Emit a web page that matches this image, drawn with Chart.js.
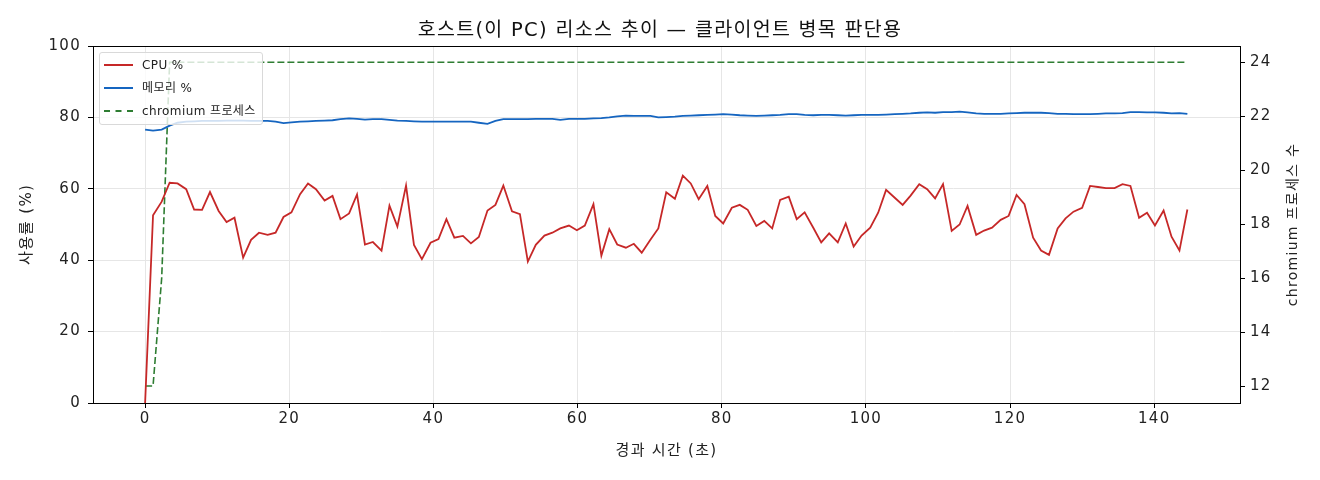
<!DOCTYPE html>
<html lang="ko">
<head>
<meta charset="utf-8">
<title>호스트 리소스 추이</title>
<script src="https://cdn.jsdelivr.net/npm/chart.js@4.4.1/dist/chart.umd.min.js"></script>
<style>
  html, body { margin: 0; padding: 0; background: #fff; }
  #wrap { position: relative; width: 1320px; height: 480px; }
  #legend {
    position: absolute; left: 99px; top: 52px; width: 162px; height: 71px;
    border: 1px solid #d9d9d9; border-radius: 3px; background: rgba(255,255,255,0.8);
    font-family: 'DejaVu Sans', 'Noto Sans CJK KR', sans-serif; font-size: 12px;
    letter-spacing: 0.4px; color: #222;
  }
  .item { position: absolute; left: 0; height: 16px; line-height: 16px; white-space: nowrap; }
  .sample { position: absolute; left: 4px; top: 7px; width: 29px; height: 0; border-top-width: 2px; }
  .label { position: absolute; left: 42px; top: 0; }
</style>
</head>
<body>
<div id="wrap">
  <canvas id="myChart" width="1320" height="480"></canvas>
  <div id="legend"></div>
</div>
<script>
'use strict';
// elapsed seconds
let times = [
  0, 1.1, 2.3, 3.4, 4.5, 5.7, 6.8, 7.9, 9.0, 10.2, 11.3, 12.4, 13.6, 14.7, 15.8, 17.0,
  18.1, 19.2, 20.3, 21.5, 22.6, 23.7, 24.9, 26.0, 27.1, 28.3, 29.4, 30.5, 31.6, 32.8, 33.9, 35.0,
  36.2, 37.3, 38.4, 39.6, 40.7, 41.8, 42.9, 44.1, 45.2, 46.3, 47.5, 48.6, 49.7, 50.9, 52.0, 53.1,
  54.2, 55.4, 56.5, 57.6, 58.8, 59.9, 61.0, 62.2, 63.3, 64.4, 65.5, 66.7, 67.8, 68.9, 70.1, 71.2,
  72.3, 73.5, 74.6, 75.7, 76.8, 78.0, 79.1, 80.2, 81.4, 82.5, 83.6, 84.8, 85.9, 87.0, 88.1, 89.3,
  90.4, 91.5, 92.7, 93.8, 94.9, 96.1, 97.2, 98.3, 99.4, 100.6, 101.7, 102.8, 104.0, 105.1, 106.2, 107.4,
  108.5, 109.6, 110.7, 111.9, 113.0, 114.1, 115.3, 116.4, 117.5, 118.7, 119.8, 120.9, 122.0, 123.2, 124.3, 125.4,
  126.6, 127.7, 128.8, 130.0, 131.1, 132.2, 133.3, 134.5, 135.6, 136.7, 137.9, 139.0, 140.1, 141.3, 142.4, 143.5,
  144.6
];
let cpuPct = [
  0, 52.6, 56.4, 61.7, 61.5, 59.9, 54.2, 54.1, 59.1, 53.8, 50.7, 51.9, 40.7, 45.7, 47.7, 47.1,
  47.7, 52.1, 53.4, 58.5, 61.5, 59.9, 56.7, 58.0, 51.5, 53.1, 58.4, 44.4, 45.1, 42.7, 55.3, 49.4,
  60.9, 44.3, 40.3, 44.9, 45.9, 51.5, 46.3, 46.8, 44.7, 46.5, 53.9, 55.5, 60.9, 53.7, 52.9, 39.6,
  44.3, 46.9, 47.7, 48.9, 49.7, 48.4, 49.7, 55.7, 41.3, 48.7, 44.4, 43.5, 44.6, 42.1, 45.7, 48.9,
  59.0, 57.2, 63.7, 61.5, 57.1, 60.8, 52.4, 50.3, 54.7, 55.5, 54.1, 49.6, 51.0, 48.9, 56.9, 57.8,
  51.5, 53.4, 49.1, 45.0, 47.5, 45.0, 50.3, 43.8, 46.9, 49.1, 53.3, 59.7, 57.5, 55.5, 58.1, 61.3,
  59.9, 57.3, 61.3, 48.2, 50.0, 55.2, 47.1, 48.3, 49.1, 51.3, 52.4, 58.3, 55.7, 46.3, 42.7, 41.5,
  48.9, 51.7, 53.6, 54.7, 60.8, 60.5, 60.2, 60.2, 61.3, 60.8, 51.9, 53.3, 49.7, 53.9, 46.6, 42.7,
  54.2
];
let memPct = [
  76.6, 76.3, 76.6, 77.7, 78.5, 78.8, 78.9, 79.0, 79.0, 79.0, 79.1, 79.1, 79.1, 79.0, 79.0, 79.0,
  78.8, 78.4, 78.6, 78.8, 78.9, 79.0, 79.1, 79.2, 79.5, 79.7, 79.6, 79.4, 79.5, 79.5, 79.3, 79.1,
  79.0, 78.9, 78.8, 78.8, 78.8, 78.8, 78.8, 78.8, 78.8, 78.5, 78.2, 79.0, 79.5, 79.5, 79.5, 79.5,
  79.6, 79.6, 79.6, 79.3, 79.6, 79.6, 79.6, 79.7, 79.8, 80.0, 80.3, 80.5, 80.4, 80.4, 80.4, 80.0,
  80.1, 80.2, 80.4, 80.5, 80.6, 80.7, 80.8, 80.9, 80.8, 80.6, 80.5, 80.4, 80.5, 80.6, 80.7, 80.9,
  80.9, 80.7, 80.6, 80.7, 80.7, 80.6, 80.5, 80.6, 80.7, 80.7, 80.7, 80.8, 80.9, 81.0, 81.1, 81.3,
  81.4, 81.3, 81.5, 81.5, 81.6, 81.4, 81.1, 81.0, 81.0, 81.0, 81.1, 81.2, 81.3, 81.3, 81.3, 81.2,
  81.0, 81.0, 80.9, 80.9, 80.9, 81.0, 81.1, 81.1, 81.2, 81.5, 81.5, 81.4, 81.4, 81.3, 81.1, 81.2,
  81.0
];
let chromiumProcs = [
  12, 12, 16, 24, 24, 24, 24, 24, 24, 24, 24, 24, 24, 24, 24, 24,
  24, 24, 24, 24, 24, 24, 24, 24, 24, 24, 24, 24, 24, 24, 24, 24,
  24, 24, 24, 24, 24, 24, 24, 24, 24, 24, 24, 24, 24, 24, 24, 24,
  24, 24, 24, 24, 24, 24, 24, 24, 24, 24, 24, 24, 24, 24, 24, 24,
  24, 24, 24, 24, 24, 24, 24, 24, 24, 24, 24, 24, 24, 24, 24, 24,
  24, 24, 24, 24, 24, 24, 24, 24, 24, 24, 24, 24, 24, 24, 24, 24,
  24, 24, 24, 24, 24, 24, 24, 24, 24, 24, 24, 24, 24, 24, 24, 24,
  24, 24, 24, 24, 24, 24, 24, 24, 24, 24, 24, 24, 24, 24, 24, 24,
  24
];
let xTicks = [0, 20, 40, 60, 80, 100, 120, 140];
let leftTicks = [0, 20, 40, 60, 80, 100];
let rightTicks = [12, 14, 16, 18, 20, 22, 24];

const FONT = "'DejaVu Sans', 'Noto Sans CJK KR', sans-serif";
const RED = '#c62828';
const BLUE = '#1565c0';
const GREEN = '#2e7d32';
const SPACING = '1.3px';

function pts(ys){
  let out = [];
  for(let i = 0; i < times.length; i++){
    out.push({x: times[i], y: ys[i]});
  }
  return out;
}

function fixTicks(list){
  return function(scale){
    scale.ticks = list.map(v => ({value: v}));
  };
}

// wider letter spacing, top/right spine and the right axis label (reads bottom to top)
const frame = {
  id: 'frame',
  beforeUpdate(chart){ chart.ctx.letterSpacing = SPACING; },
  beforeDraw(chart){ chart.ctx.letterSpacing = SPACING; },
  afterDraw(chart){
    const a = chart.chartArea;
    const c = chart.ctx;
    c.save();
    c.strokeStyle = '#000';
    c.lineWidth = 1;
    c.strokeRect(a.left + 0.5, a.top + 0.5, a.right - a.left, a.bottom - a.top);
    c.translate(1293, (a.top + a.bottom) / 2);
    c.rotate(-Math.PI / 2);
    c.fillStyle = '#222';
    c.font = '14px ' + FONT;
    c.textAlign = 'center';
    c.textBaseline = 'middle';
    c.fillText('chromium 프로세스 수', 0, 0);
    c.restore();
  }
};

let ctx = document.getElementById('myChart').getContext('2d');
let myChart = new Chart(ctx, {
  type: 'line',
  data: {
    datasets: [{
      label: 'CPU %',
      data: pts(cpuPct),
      borderColor: RED,
      borderWidth: 1.8,
      yAxisID: 'y'
    },{
      label: '메모리 %',
      data: pts(memPct),
      borderColor: BLUE,
      borderWidth: 1.8,
      yAxisID: 'y'
    },{
      label: 'chromium 프로세스',
      data: pts(chromiumProcs),
      borderColor: GREEN,
      borderWidth: 1.6,
      borderDash: [7, 3],
      yAxisID: 'y1'
    }]
  },
  options: {
    responsive: false,
    animation: false,
    devicePixelRatio: 1,
    elements: { point: { radius: 0 }, line: { tension: 0 } },
    layout: { padding: { top: 6, left: 0, right: 0, bottom: 0 } },
    plugins: {
      legend: { display: false },
      tooltip: { enabled: false },
      title: {
        display: true,
        text: '호스트(이 PC) 리소스 추이 — 클라이언트 병목 판단용',
        color: '#111',
        font: { family: FONT, size: 19.5, weight: 'normal', lineHeight: 1.2 },
        padding: { top: 12.8, bottom: 3.8 }
      }
    },
    scales: {
      x: {
        type: 'linear',
        min: -7.23,
        max: 151.9,
        afterBuildTicks: fixTicks(xTicks),
        afterFit(scale){ scale.height = 77; },
        border: { color: '#000', width: 1 },
        grid: { color: '#e6e6e6', tickColor: '#000', tickLength: 5 },
        ticks: { color: '#222', padding: 2, font: { family: FONT, size: 15 } },
        title: {
          display: true, text: '경과 시간 (초)', color: '#222',
          font: { family: FONT, size: 15 }, padding: { top: 0, bottom: 20 }
        }
      },
      y: {
        position: 'left',
        min: 0,
        max: 100,
        afterBuildTicks: fixTicks(leftTicks),
        afterFit(scale){ scale.width = 93; },
        border: { color: '#000', width: 1 },
        grid: { color: '#e6e6e6', tickColor: '#000', tickLength: 5 },
        ticks: { color: '#222', padding: 7, font: { family: FONT, size: 15 } },
        title: {
          display: true, text: '사용률 (%)', color: '#222',
          font: { family: FONT, size: 15 }, padding: { top: 18, bottom: 0 }
        }
      },
      y1: {
        position: 'right',
        min: 11.37,
        max: 24.6,
        afterBuildTicks: fixTicks(rightTicks),
        afterFit(scale){ scale.width = 80; },
        border: { color: '#000', width: 1 },
        grid: { drawOnChartArea: false, tickColor: '#000', tickLength: 5 },
        ticks: { color: '#222', padding: 5, font: { family: FONT, size: 15 } },
        title: { display: false }
      }
    }
  },
  plugins: [frame]
});

// matplotlib-style legend inside the axes
function renderLegend(){
  const box = document.getElementById('legend');
  const items = [
    { text: 'CPU %', color: RED, style: 'solid' },
    { text: '메모리 %', color: BLUE, style: 'solid' },
    { text: 'chromium 프로세스', color: GREEN, style: 'dashed' }
  ];
  for(let i = 0; i < items.length; i++){
    let row = document.createElement('div');
    row.className = 'item';
    row.style.top = (4 + i * 22.8) + 'px';
    let s = document.createElement('span');
    s.className = 'sample';
    s.style.borderTopStyle = items[i].style;
    s.style.borderTopColor = items[i].color;
    let t = document.createElement('span');
    t.className = 'label';
    t.textContent = items[i].text;
    row.appendChild(s);
    row.appendChild(t);
    box.appendChild(row);
  }
}
renderLegend();
</script>
</body>
</html>
